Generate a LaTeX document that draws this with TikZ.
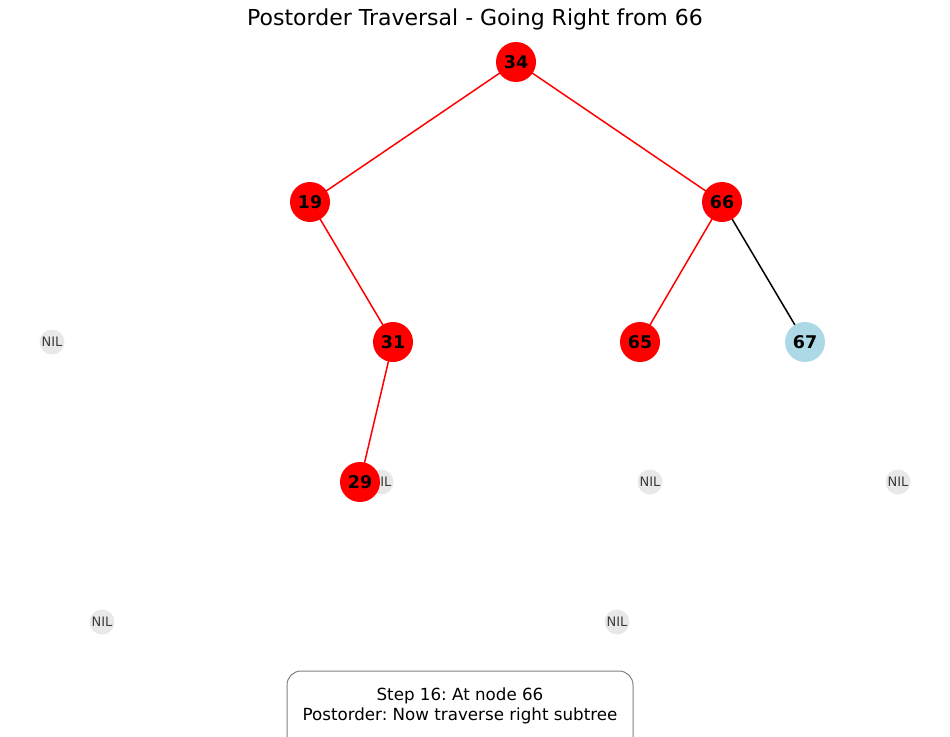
\documentclass[tikz,border=0pt]{standalone}
\usepackage{fontspec}
\setmainfont{DejaVu Sans}
\frenchspacing
\begin{document}
\begin{tikzpicture}[x=1pt,y=-1pt,
  tnode/.style={circle,fill=red,minimum size=40pt,inner sep=0pt,font=\fontsize{17.5}{19}\selectfont\bfseries},
  vnode/.style={tnode,fill={rgb,255:red,173;green,216;blue,230}},
  nilnode/.style={circle,fill={rgb,255:red,232;green,232;blue,232},minimum size=25pt,inner sep=0pt,text={rgb,255:red,60;green,60;blue,60},font=\fontsize{13}{15}\selectfont},
  redge/.style={draw=red,line width=1.5pt},
  bedge/.style={draw=black,line width=1.5pt}]
\useasboundingbox (0,0) rectangle (950,736);
\node[font=\fontsize{22}{26}\selectfont] (title) at (475,19) {Postorder Traversal - Going Right from 66};
% NIL nodes
\node[nilnode] (n1) at (52,342) {NIL};
\node[nilnode] (n2) at (381,482) {NIL};
\node[nilnode] (n3) at (650,482) {NIL};
\node[nilnode] (n4) at (898,482) {NIL};
\node[nilnode] (n5) at (102,622) {NIL};
\node[nilnode] (n6) at (617,622) {NIL};
% tree nodes
\coordinate (c34) at (516,62);
\coordinate (c19) at (310,202);
\coordinate (c66) at (722,202);
\coordinate (c31) at (393,342);
\coordinate (c65) at (640,342);
\coordinate (c67) at (805,342);
\coordinate (c29) at (360,482);
\draw[redge] (c34) -- (c19);
\draw[redge] (c34) -- (c66);
\draw[redge] (c19) -- (c31);
\draw[redge] (c31) -- (c29);
\draw[redge] (c66) -- (c65);
\draw[bedge] (c66) -- (c67);
\node[tnode] (t34) at (c34) {34};
\node[tnode] (t19) at (c19) {19};
\node[tnode] (t66) at (c66) {66};
\node[tnode] (t31) at (c31) {31};
\node[tnode] (t65) at (c65) {65};
\node[vnode] (t67) at (c67) {67};
\node[tnode] (t29) at (c29) {29};
% info box
\begin{scope}
\clip (0,0) rectangle (950,736);
\draw[draw={rgb,255:red,128;green,128;blue,128},fill=white,line width=1pt,rounded corners=14pt] (287,671) rectangle (633,760);
\end{scope}
\node[align=center,font=\fontsize{16.7}{20}\selectfont] (info) at (460,706) {Step 16: At node 66\\Postorder: Now traverse right subtree};
\end{tikzpicture}
\end{document}
